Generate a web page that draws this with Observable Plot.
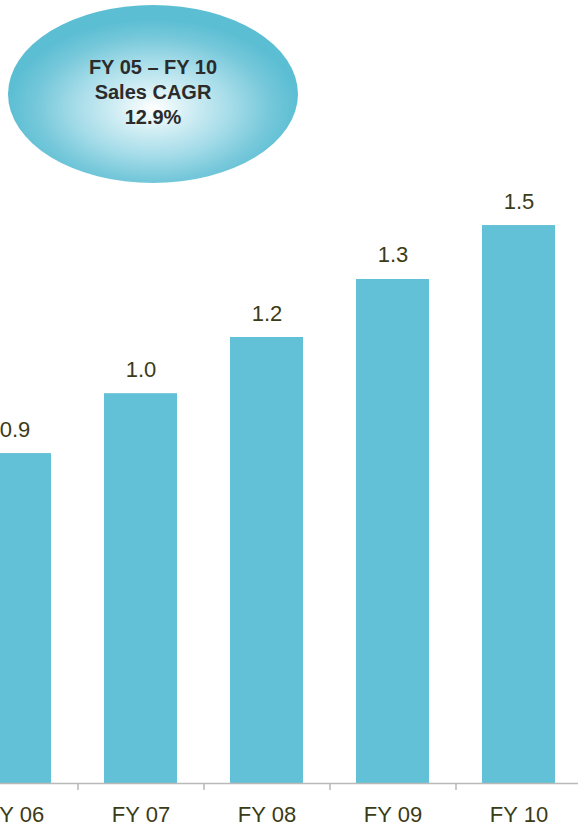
<!DOCTYPE html>
<html>
<head>
<meta charset="utf-8">
<script src="https://cdn.jsdelivr.net/npm/d3@7"></script>
<script src="https://cdn.jsdelivr.net/npm/@observablehq/plot@0.6"></script>
<style>
  html, body { margin: 0; padding: 0; background: #ffffff; }
  #wrap { position: relative; width: 578px; height: 826px; overflow: hidden; font-family: "Liberation Sans", Arial, sans-serif; }
  #bubble {
    position: absolute; left: 8px; top: 5px; width: 290px; height: 178px; border-radius: 50%;
    background: radial-gradient(ellipse 50% 50% at 50% 58%, #ffffff 0%, #d2eef4 25%, #a3dbe8 55%, #76c8da 80%, #5cbed3 100%);
  }
  #bubble .txt {
    position: absolute; left: 0; right: 0; top: 49.6px; text-align: center;
    font-weight: bold; font-size: 20px; line-height: 25px; color: #2b2b2b;
  }
  #chart { position: absolute; left: 0; top: 0; }
</style>
</head>
<body>
<div id="wrap">
  <div id="chart"></div>
  <div id="bubble"><div class="txt"></div></div>
</div>
<script>
const years = ["FY 06", "FY 07", "FY 08", "FY 09", "FY 10"];
const sales = [0.887, 1.048, 1.199, 1.355, 1.50];
const valueLabels = ["0.9", "1.0", "1.2", "1.3", "1.5"];
const bubbleLines = ["FY 05 \u2013 FY 10", "Sales CAGR", "12.9%"];

const data = years.map((y, i) => ({year: y, value: sales[i], label: valueLabels[i]}));

const textColor = "#3b3b16";
const barColor = "#62c1d6";
const axisColor = "#b9b9b9";

const chart = Plot.plot({
  width: 578,
  height: 826,
  marginTop: 0,
  marginLeft: 0,
  marginRight: 0,
  marginBottom: 43,
  style: {fontFamily: "'Liberation Sans', Arial, sans-serif", background: "transparent", overflow: "hidden"},
  x: {domain: years, range: [-48.5, 581.5], paddingInner: 0.42, paddingOuter: 0.21, align: 0.5, label: null},
  y: {domain: [0, 2.105], axis: null},
  marks: [
    Plot.barY(data, {x: "year", y: "value", fill: barColor}),
    Plot.ruleY([0], {stroke: axisColor, strokeWidth: 1.5}),
    Plot.axisX({tickSize: 7, text: null, label: null, dx: 63, stroke: axisColor, strokeWidth: 1.5, strokeOpacity: 1}),
    Plot.axisX({tickSize: 0, tickPadding: 23, fontSize: 22, fill: textColor, label: null}),
    Plot.text(data, {x: "year", y: "value", text: "label", dy: -17, lineAnchor: "bottom", fontSize: 22, fill: textColor})
  ]
});
document.getElementById("chart").appendChild(chart);
document.querySelector("#bubble .txt").innerHTML = bubbleLines.map(s => `<div>${s}</div>`).join("");
</script>
</body>
</html>
